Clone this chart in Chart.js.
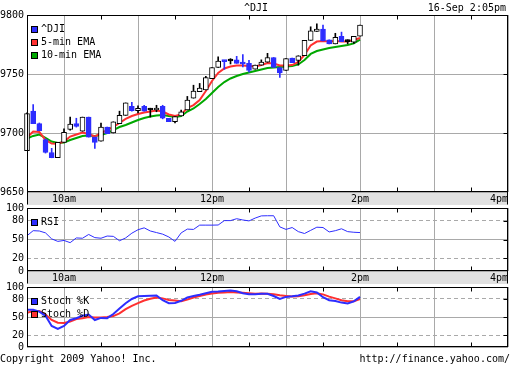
<!DOCTYPE html>
<html lang="en">

<head>
    <meta charset="UTF-8">
    <title>^DJI intraday</title>
    <script src="https://cdn.jsdelivr.net/npm/chart.js@4.4.1/dist/chart.umd.min.js"></script>
    <style>
        body { margin: 0; background: #fff; }
        #wrap { position: relative; width: 512px; height: 365px; overflow: hidden; background: #fff; }
        #wrap canvas { position: absolute; left: 0; }
        .txt { position: absolute; font: 10px 'DejaVu Sans Mono', monospace; line-height: 12px; white-space: pre; color: #000; }
    </style>
</head>

<body>
    <div id="wrap">
        <canvas id="price" width="512" height="205" style="top:0"></canvas>
        <canvas id="rsi" width="512" height="85" style="top:199px"></canvas>
        <canvas id="stoch" width="512" height="78" style="top:278px"></canvas>
        <div class="txt" style="top:2px; left:0; width:512px; text-align:center">^DJI</div>
        <div class="txt" style="top:2px; right:6px">16-Sep 2:05pm</div>
        <div class="txt" style="top:353px; left:0">Copyright 2009 Yahoo! Inc.</div>
        <div class="txt" style="top:353px; right:2px">http://finance.yahoo.com/</div>
    </div>

    <script>
        // 5 minute candles, 9:30 to 14:00
        const times = ['9:30', '9:35', '9:40', '9:45', '9:50', '9:55', '10:00', '10:05', '10:10', '10:15', '10:20',
            '10:25', '10:30', '10:35', '10:40', '10:45', '10:50', '10:55', '11:00', '11:05', '11:10', '11:15', '11:20',
            '11:25', '11:30', '11:35', '11:40', '11:45', '11:50', '11:55', '12:00', '12:05', '12:10', '12:15', '12:20',
            '12:25', '12:30', '12:35', '12:40', '12:45', '12:50', '12:55', '13:00', '13:05', '13:10', '13:15', '13:20',
            '13:25', '13:30', '13:35', '13:40', '13:45', '13:50', '13:55', '14:00'];

        const opens = [9685, 9718.5, 9708, 9694.5, 9683.5, 9679, 9692, 9703, 9708, 9701.5, 9713.5, 9696.5, 9693, 9705,
            9700, 9708, 9715, 9722.5, 9719, 9722.5, 9719.5, 9719.5, 9722.5, 9712.5, 9709.5, 9714.5, 9719.5, 9729.5, 9735,
            9736.5, 9746, 9755.5, 9761.5, 9761, 9762, 9760, 9759, 9754, 9757.5, 9760, 9764, 9755.5, 9753, 9763.5, 9761.5,
            9765.5, 9778.5, 9786, 9788, 9779, 9775.5, 9782, 9777.5, 9777, 9782];
        const highs = [9717, 9724, 9708.5, 9695, 9687, 9692, 9703.5, 9713.5, 9712.5, 9713.5, 9713.5, 9696.5, 9708.5, 9705,
            9709.5, 9718.5, 9725.5, 9726, 9723, 9723.5, 9721, 9723.5, 9723.5, 9712.5, 9714, 9719.5, 9731, 9740.5, 9742,
            9748, 9755.5, 9764.5, 9761.5, 9763, 9765, 9766.5, 9761.5, 9757.5, 9762, 9767.5, 9764, 9755.5, 9763, 9763.5,
            9765.5, 9778.5, 9790, 9792.5, 9791.5, 9779, 9784.5, 9785.5, 9779, 9782, 9791.5];
        const lows = [9685, 9708, 9702, 9683, 9679, 9679, 9692, 9702.5, 9705, 9701.5, 9696.5, 9687, 9693, 9699.5, 9700,
            9708, 9715, 9718.5, 9717, 9718.5, 9713.5, 9718, 9712, 9709.5, 9708.5, 9714.5, 9719.5, 9729.5, 9735, 9736.5,
            9746, 9755.5, 9754, 9758.5, 9759, 9756, 9751.5, 9754, 9757.5, 9760, 9755.5, 9747, 9753, 9759.5, 9757.5, 9765.5,
            9778.5, 9786, 9778, 9775.5, 9775.5, 9777.5, 9775.5, 9776, 9782];
        const closes = [9716.5, 9708, 9702, 9683.5, 9679, 9692, 9700.5, 9707.5, 9705.5, 9713.5, 9696.5, 9692, 9705, 9699.5,
            9709.5, 9715, 9725.5, 9719, 9721, 9718.5, 9719.5, 9721, 9712.5, 9709.5, 9714, 9718, 9728, 9735.5, 9738, 9747,
            9755.5, 9761, 9760.5, 9761, 9759, 9758.5, 9753, 9757.5, 9760, 9764, 9755.5, 9751, 9763, 9759.5, 9765.5, 9778.5,
            9786.5, 9788, 9778, 9775.5, 9781, 9777.5, 9777.5, 9782, 9791.5];

        const ema5 = [9696.2, 9701.3, 9700.8, 9694.1, 9691.1, 9690.9, 9692.8, 9697, 9698.7, 9700.4, 9699.2, 9697, 9700,
            9702.5, 9705.1, 9708.5, 9711.9, 9714.4, 9716.1, 9717.4, 9718.2, 9719.1, 9718.2, 9715.7, 9714.4, 9715.7, 9721.2,
            9723.7, 9728, 9735.6, 9744.1, 9750.9, 9754.7, 9756.4, 9757.2, 9757.2, 9756.8, 9756.4, 9757.6, 9759.3, 9758.9,
            9757.2, 9757.2, 9757.6, 9760.2, 9766.1, 9774.2, 9777.5, 9778, 9777.5, 9778, 9777.5, 9777.5, 9778.8, 9780.5];
        const ema10 = [9695.3, 9697.5, 9698.7, 9695.8, 9692.8, 9691.5, 9692, 9694.1, 9695.8, 9697.5, 9697.9, 9697.5, 9698.3,
            9700, 9702.5, 9705.1, 9706.8, 9708.9, 9711, 9712.7, 9714, 9714.8, 9715.3, 9714.4, 9713.6, 9714.4, 9718.2,
            9720.8, 9724.6, 9728.8, 9733.9, 9739, 9743.2, 9746.2, 9748.3, 9750, 9751.3, 9752.5, 9753.8, 9755.1, 9755.5,
            9755.9, 9756.4, 9756.8, 9758.1, 9761.9, 9767, 9769.5, 9770.8, 9772, 9772.9, 9773.7, 9774.6, 9775.9, 9779.2];

        const rsi = [56, 64, 63.5, 60.5, 51, 47, 48.5, 45, 52.5, 52, 58, 53, 52, 55.5, 55, 48, 52.5, 60, 65.5, 68.5, 63.5,
            61, 58.5, 54, 47, 60.5, 66.5, 66, 72.8, 72.8, 72.8, 73, 80, 80, 83, 81, 79.5, 84, 87.5, 87.7, 87.7, 70, 66, 69,
            62.5, 59.5, 64.5, 69.5, 69, 62, 64, 67, 62.5, 61.5, 61];
        const stochK = [62, 62, 59, 52, 35, 30, 35, 45, 48, 52, 54, 45, 48.5, 48, 55, 64, 73, 80, 84.5, 85, 85.5, 86, 78,
            73, 73.5, 77, 82.5, 85, 87, 89.5, 92, 92.5, 93.5, 94, 92.8, 89.5, 88, 88, 88.6, 88.6, 85, 80, 83.5, 84.5, 86,
            89, 92.8, 91, 83, 78, 76.5, 74, 72.5, 76, 83.5];
        const stochD = [57, 60, 60, 54, 45, 40.5, 40, 42.5, 46.5, 48, 50, 49.3, 49, 50, 51.5, 56, 63, 68.5, 73, 77.5, 80.5,
            82.5, 81, 78.5, 77.5, 76.3, 79, 82.5, 85, 87.5, 89, 90.5, 91, 91.5, 91, 90.5, 89.5, 88.6, 89, 88.6, 88, 86.2,
            85, 84, 84.5, 86.2, 88.5, 89.5, 87.7, 84, 81, 78, 76.3, 76.3, 80];

        const priceTicks = [9650, 9700, 9750, 9800];
        const oscTicks = [0, 20, 50, 80, 100];
        const timeTicks = ['9:30', '10:00', '11:00', '12:00', '13:00', '14:00', '15:00', '16:00'];
        const timeLabels = ['', '10am', '', '12pm', '', '2pm', '', '4pm'];

        const FONT = "'DejaVu Sans Mono', monospace";
        const BLUE = '#2d2dff';
        const RED = '#ff3030';
        const GREEN = '#00a800';
        const GRID = '#a9a9a9';
        const BAND = '#e1e1e1';

        Chart.defaults.font.family = FONT;
        Chart.defaults.font.size = 10;
        Chart.defaults.color = '#000';

        const toMin = t => { const [h, m] = t.split(':'); return h * 60 + Number(m); };
        const mins = times.map(toMin);
        const points = arr => arr.map((v, i) => ({ x: mins[i], y: v }));

        const dir = opens.map((o, i) => Math.sign(closes[i] - o));
        const bodyFill = dir.map(d => d > 0 ? '#ffffff' : d < 0 ? BLUE : '#000000');
        const bodyLine = dir.map(d => d < 0 ? BLUE : '#000000');

        // frame, grey time band, little edge ticks and the boxed legend
        const panelFrame = {
            id: 'panelFrame',
            beforeDraw(chart, args, opts) {
                if (!opts.band) return;
                const a = chart.chartArea;
                chart.ctx.save();
                chart.ctx.fillStyle = BAND;
                chart.ctx.fillRect(a.left, a.bottom, a.right - a.left, 13);
                chart.ctx.restore();
            },
            afterDraw(chart, args, opts) {
                const { ctx, chartArea: a, scales: { x, y } } = chart;
                const l = a.left + 0.5, r = a.right - 0.5, t = a.top + 0.5, b = a.bottom - 0.5;
                ctx.save();
                ctx.strokeStyle = '#000';
                ctx.lineWidth = 1;
                ctx.strokeRect(l, t, r - l, b - t);
                ctx.beginPath();
                if (opts.band) {
                    ctx.moveTo(l, b); ctx.lineTo(l, b + 13);
                    ctx.moveTo(r, b); ctx.lineTo(r, b + 13);
                }
                x.ticks.forEach((tk, i) => {
                    if (i === 0 || i === x.ticks.length - 1) return;
                    const px = Math.round(x.getPixelForValue(tk.value + 30)) + 0.5;
                    ctx.moveTo(px, t); ctx.lineTo(px, t + 4);
                    ctx.moveTo(px, b); ctx.lineTo(px, b - 4);
                });
                y.ticks.forEach(tk => {
                    if (tk.value <= y.min || tk.value >= y.max) return;
                    const py = Math.round(y.getPixelForValue(tk.value)) + 0.5;
                    ctx.moveTo(r - 4, py); ctx.lineTo(r, py);
                });
                ctx.stroke();

                let cy = a.top + 14;
                ctx.font = '10px ' + FONT;
                ctx.textBaseline = 'middle';
                chart.data.datasets.forEach(ds => {
                    if (!ds.legendColor) return;
                    const by = Math.round(cy) - 3;
                    ctx.fillStyle = ds.legendColor;
                    ctx.fillRect(32, by + 1, 5, 5);
                    ctx.strokeRect(31.5, by + 0.5, 6, 6);
                    ctx.fillStyle = '#000';
                    ctx.fillText(ds.label, 41, cy);
                    cy += 13;
                });
                ctx.restore();
            }
        };

        function timeAxis(showLabels) {
            return {
                type: 'linear',
                min: toMin('9:30'),
                max: toMin('16:00'),
                offset: false,
                afterBuildTicks: s => { s.ticks = timeTicks.map(t => ({ value: toMin(t) })); },
                afterFit: s => { s.height = showLabels ? 13 : 0; },
                grid: { color: GRID, drawTicks: false, offset: false },
                border: { display: false },
                ticks: {
                    display: showLabels,
                    autoSkip: false,
                    maxRotation: 0,
                    padding: 1,
                    align: 'inner',
                    callback: (v, i) => timeLabels[i]
                }
            };
        }

        function oscAxis() {
            return {
                type: 'linear',
                min: 0,
                max: 100,
                afterBuildTicks: s => { s.ticks = oscTicks.map(v => ({ value: v })); },
                afterFit: s => { s.width = 27; },
                grid: { color: GRID, drawTicks: false },
                border: {
                    display: false,
                    dash: c => (c.tick && (c.tick.value === 20 || c.tick.value === 80)) ? [4, 3] : []
                },
                ticks: { padding: 3, callback: v => String(v) }
            };
        }

        const baseOptions = (padding, band) => ({
            responsive: false,
            animation: false,
            events: [],
            layout: { padding: padding },
            plugins: {
                legend: { display: false },
                tooltip: { enabled: false },
                panelFrame: { band: band }
            }
        });

        const priceOptions = baseOptions({ top: 15, right: 4 }, true);
        priceOptions.scales = {
            x: timeAxis(true),
            y: {
                type: 'linear',
                min: 9650,
                max: 9800,
                afterBuildTicks: s => { s.ticks = priceTicks.map(v => ({ value: v })); },
                afterFit: s => { s.width = 27; },
                grid: { color: GRID, drawTicks: false },
                border: { display: false },
                ticks: { padding: 3, callback: v => String(v) }
            }
        };

        new Chart(document.getElementById('price'), {
            type: 'line',
            data: {
                datasets: [{
                    type: 'bar',
                    label: '^DJI',
                    legendColor: BLUE,
                    data: mins.map((m, i) => ({ x: m, y: [opens[i], closes[i]] })),
                    backgroundColor: bodyFill,
                    borderColor: bodyLine,
                    borderWidth: 1,
                    borderSkipped: false,
                    barThickness: 5,
                    minBarLength: 2,
                    grouped: false,
                    clip: false,
                    order: 0
                }, {
                    type: 'bar',
                    label: 'range',
                    data: mins.map((m, i) => ({ x: m, y: [lows[i], highs[i]] })),
                    backgroundColor: bodyLine,
                    borderWidth: 0,
                    barThickness: 1,
                    grouped: false,
                    clip: false,
                    order: 1
                }, {
                    label: '5-min EMA',
                    legendColor: RED,
                    data: points(ema5),
                    borderColor: RED,
                    borderWidth: 2,
                    pointRadius: 0,
                    tension: 0,
                    order: 2
                }, {
                    label: '10-min EMA',
                    legendColor: GREEN,
                    data: points(ema10),
                    borderColor: GREEN,
                    borderWidth: 2,
                    pointRadius: 0,
                    tension: 0,
                    order: 3
                }]
            },
            options: priceOptions,
            plugins: [panelFrame]
        });

        const rsiOptions = baseOptions({ top: 6, right: 4 }, true);
        rsiOptions.scales = { x: timeAxis(true), y: oscAxis() };

        new Chart(document.getElementById('rsi'), {
            type: 'line',
            data: {
                datasets: [{
                    label: 'RSI',
                    legendColor: BLUE,
                    data: points(rsi),
                    borderColor: BLUE,
                    borderWidth: 1,
                    pointRadius: 0,
                    tension: 0
                }]
            },
            options: rsiOptions,
            plugins: [panelFrame]
        });

        const stochOptions = baseOptions({ top: 6, right: 4, bottom: 6 }, false);
        stochOptions.scales = { x: timeAxis(false), y: oscAxis() };

        new Chart(document.getElementById('stoch'), {
            type: 'line',
            data: {
                datasets: [{
                    label: 'Stoch %K',
                    legendColor: BLUE,
                    data: points(stochK),
                    borderColor: BLUE,
                    borderWidth: 2,
                    pointRadius: 0,
                    tension: 0,
                    order: 0
                }, {
                    label: 'Stoch %D',
                    legendColor: RED,
                    data: points(stochD),
                    borderColor: RED,
                    borderWidth: 2,
                    pointRadius: 0,
                    tension: 0,
                    order: 1
                }]
            },
            options: stochOptions,
            plugins: [panelFrame]
        });
    </script>
</body>

</html>
